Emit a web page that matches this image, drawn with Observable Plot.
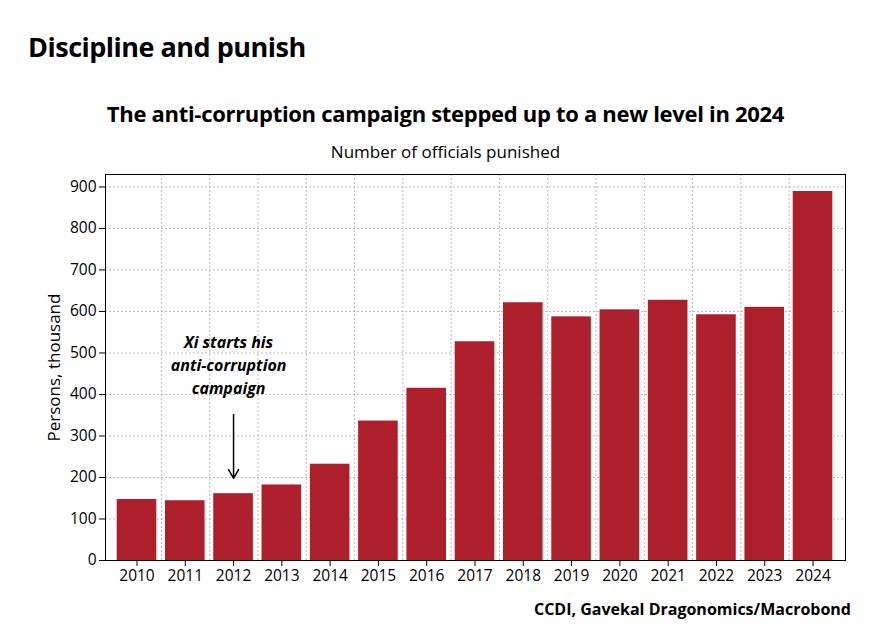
<!DOCTYPE html>
<html><head><meta charset="utf-8">
<script src="https://cdn.jsdelivr.net/npm/d3@7"></script>
<script src="https://cdn.jsdelivr.net/npm/@observablehq/plot@0.6"></script>
<style>
body{margin:0;background:#fff;font-family:"Open Sans",sans-serif;width:891px;height:636px;position:relative}
#t{position:absolute;left:28px;top:28px;font-size:27px;font-weight:700;letter-spacing:-0.5px}
#s{position:absolute;left:0;width:891px;top:98px;text-align:center;font-size:22px;font-weight:700;letter-spacing:-0.3px}
#u{position:absolute;left:0;width:891px;top:140px;text-align:center;font-size:17px}
#c{position:absolute;right:40px;top:598px;font-size:16px;font-weight:700}
#p{position:absolute;left:0;top:165px}
</style></head><body>
<div id="t">Discipline and punish</div>
<div id="s">The anti-corruption campaign stepped up to a new level in 2024</div>
<div id="u">Number of officials punished</div>
<div id="p"></div>
<div id="c">CCDI, Gavekal Dragonomics/Macrobond</div>
<script>
const years=["2010","2011","2012","2013","2014","2015","2016","2017","2018","2019","2020","2021","2022","2023","2024"];
const punished=[147,144,161,182,232,336,415,527,621,587,604,627,592,610,889];
const yTicks=[0,100,200,300,400,500,600,700,800,900];
const data=years.map((y,i)=>({year:y,v:punished[i]}));
const step=(891-105-46-7)/15;
const chart=Plot.plot({
  width:891,height:430,marginTop:9,marginBottom:35,marginLeft:105,marginRight:46,
  style:{fontFamily:"Open Sans, sans-serif",fontSize:"15.5px",color:"#000"},
  x:{domain:years,round:false,insetLeft:3,insetRight:4,padding:0.18,label:null,tickSize:6},
  y:{domain:[0,930],ticks:yTicks,label:"Persons, thousand",labelAnchor:"center",labelArrow:"none",labelOffset:58,tickSize:6},
  marks:[
    Plot.gridY(yTicks,{stroke:"#bbb",strokeOpacity:1,strokeDasharray:"2,2"}),
    Plot.ruleX(years.slice(0,-1),{x:d=>d,dx:step/2,stroke:"#bbb",strokeDasharray:"2,2"}),
    Plot.barY(data,{x:"year",y:"v",fill:"#ad1f2b"}),
    Plot.frame({stroke:"#000"}),
    Plot.text([{x:"2012",y:475}],{x:"x",y:"y",text:()=>"Xi starts his\nanti-corruption\ncampaign",fontSize:16,fontWeight:"bold",fontStyle:"italic",dx:-5,lineHeight:1.45}),
    Plot.arrow([{x:"2012",y1:352,y2:198}],{x:"x",y1:"y1",y2:"y2",stroke:"#000",strokeWidth:1.5,headLength:10,bend:0})
  ]
});
chart.querySelectorAll('[aria-label="y-axis label"] text').forEach(t=>{t.setAttribute("font-size","17")});
document.getElementById("p").appendChild(chart);
</script>
</body></html>
